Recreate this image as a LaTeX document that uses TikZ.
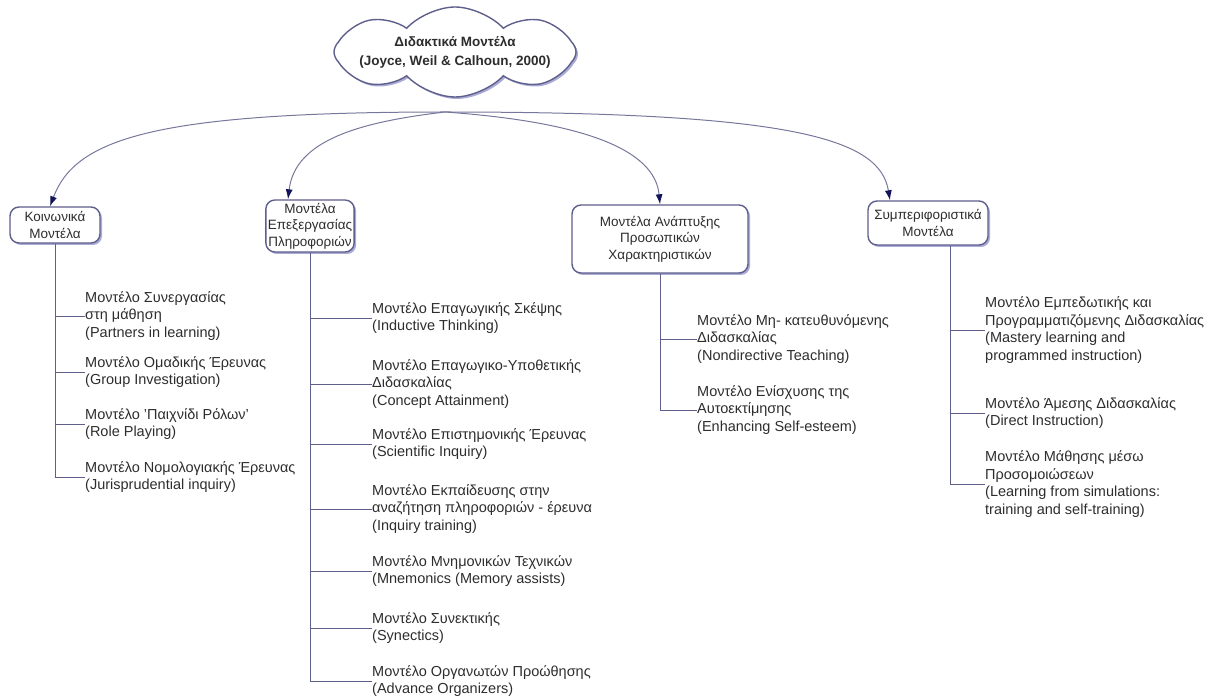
\documentclass[tikz,border=0pt]{standalone}
\usepackage{fontspec}
\setmainfont{Liberation Sans}
\usetikzlibrary{shapes.symbols,shadows,arrows.meta}
\definecolor{edgecol}{RGB}{95,95,140}
\definecolor{tipcol}{RGB}{20,20,90}
\definecolor{shadecol}{RGB}{150,150,205}
\definecolor{textcol}{RGB}{45,45,45}
\tikzset{
    model/.style={draw=edgecol, line width=1.4pt, rounded corners=9pt, fill=white, align=center, inner sep=2pt, text=textcol,
        font=\fontsize{13.5}{16.5}\selectfont,
        drop shadow={shadow xshift=2pt, shadow yshift=-2pt, fill=shadecol, opacity=.8}},
    item/.style={anchor=west, align=left, inner sep=0pt, text=textcol},
    link/.style={edgecol!85, line width=1pt, -{Latex[length=10pt,width=7pt,color=tipcol]}},
    stem/.style={edgecol, line width=1pt},
}
\begin{document}
\begin{tikzpicture}[x=1pt,y=-1pt,font=\fontsize{14.5}{17.5}\selectfont]
    \useasboundingbox (0,0) rectangle (1230,700);
    %title cloud
    \node[cloud, cloud puffs=8, cloud puff arc=95, cloud ignores aspect, draw=edgecol, line width=1.4pt, fill=white,
        minimum width=242, minimum height=90, inner sep=0pt,
        drop shadow={shadow xshift=2pt, shadow yshift=-2pt, fill=shadecol, opacity=.8}]
        (cloud) at (455,52) {};
    \node[align=center, font=\fontsize{13.5}{19}\selectfont\bfseries, text=textcol] (title) at (cloud.center)
        {Διδακτικά Μοντέλα\\(Joyce, Weil \& Calhoun, 2000)};
    \coordinate (hub) at (445,112);
    %model boxes
    \node[model, minimum width=90, minimum height=36] (k1) at (55,225) {Κοινωνικά\\Μοντέλα};
    \node[model, minimum width=78, minimum height=52] (k2) at (310,226) {Μοντέλα\\Επεξεργασίας\\Πληροφοριών};
    \node[model, minimum width=176, minimum height=68] (k3) at (660,239) {Μοντέλα Ανάπτυξης\\Προσωπικών\\Χαρακτηριστικών};
    \node[model, minimum width=120, minimum height=44] (k4) at (928,223) {Συμπεριφοριστικά\\Μοντέλα};
    %arrows from the cloud
    \draw[link] (hub) .. controls (150,112) and (75,140) .. ([xshift=-5]k1.north);
    \draw[link] (hub) .. controls (360,122) and (295,140) .. ([xshift=-22]k2.north);
    \draw[link] (hub) .. controls (585,122) and (655,150) .. (k3.north);
    \draw[link] (hub) .. controls (800,112) and (880,140) .. ([xshift=-38]k4.north);
    %social models
    \node[item] (k1a) at (85,316) {Μοντέλο Συνεργασίας\\στη μάθηση\\(Partners in learning)};
    \node[item] (k1b) at (85,372) {Μοντέλο Ομαδικής Έρευνας\\(Group Investigation)};
    \node[item] (k1c) at (85,424) {Μοντέλο 'Παιχνίδι Ρόλων'\\(Role Playing)};
    \node[item] (k1d) at (85,477) {Μοντέλο Νομολογιακής Έρευνας\\(Jurisprudential inquiry)};
    %information processing models
    \node[item] (k2a) at (372,318) {Μοντέλο Επαγωγικής Σκέψης\\(Inductive Thinking)};
    \node[item] (k2b) at (372,384) {Μοντέλο Επαγωγικο-Υποθετικής\\Διδασκαλίας\\(Concept Attainment)};
    \node[item] (k2c) at (372,444) {Μοντέλο Επιστημονικής Έρευνας\\(Scientific Inquiry)};
    \node[item] (k2d) at (372,509) {Μοντέλο Εκπαίδευσης στην\\αναζήτηση πληροφοριών - έρευνα\\(Inquiry training)};
    \node[item] (k2e) at (372,571) {Μοντέλο Μνημονικών Τεχνικών\\(Mnemonics (Memory assists)};
    \node[item] (k2f) at (372,628) {Μοντέλο Συνεκτικής\\(Synectics)};
    \node[item] (k2g) at (372,681) {Μοντέλο Οργανωτών Προώθησης\\(Advance Organizers)};
    %personal models
    \node[item] (k3a) at (697,339) {Μοντέλο Μη- κατευθυνόμενης\\Διδασκαλίας\\(Nondirective Teaching)};
    \node[item] (k3b) at (697,410) {Μοντέλο Ενίσχυσης της\\Αυτοεκτίμησης\\(Enhancing Self-esteem)};
    %behavioural models
    \node[item] (k4a) at (985,330) {Μοντέλο Εμπεδωτικής και\\Προγραμματιζόμενης Διδασκαλίας\\(Mastery learning and\\programmed instruction)};
    \node[item] (k4b) at (985,413) {Μοντέλο Άμεσης Διδασκαλίας\\(Direct Instruction)};
    \node[item] (k4c) at (985,484) {Μοντέλο Μάθησης μέσω\\Προσομοιώσεων\\(Learning from simulations:\\training and self-training)};
    %draw stems
    \foreach \i in {a,b,c,d}
        \draw[stem] (k1.south) |- (k1\i.west);
    \foreach \i in {a,b,c,d,e,f,g}
        \draw[stem] (k2.south) |- (k2\i.west);
    \foreach \i in {a,b}
        \draw[stem] (k3.south) |- (k3\i.west);
    \foreach \i in {a,b,c}
        \draw[stem] ([xshift=22]k4.south) |- (k4\i.west);
\end{tikzpicture}
\end{document}
